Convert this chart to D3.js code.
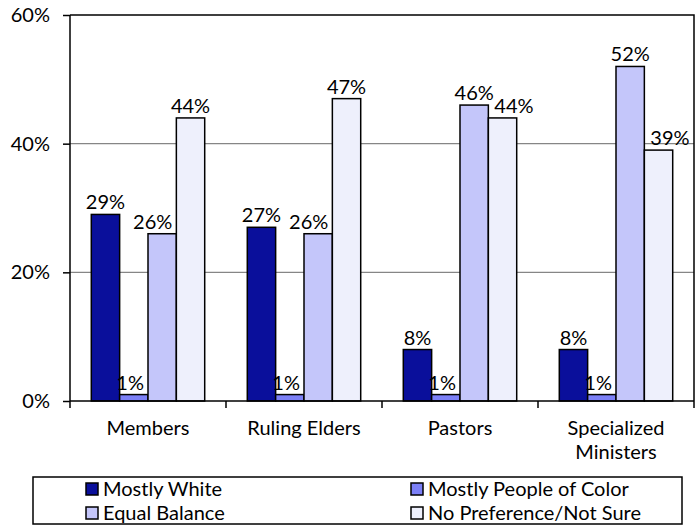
<!DOCTYPE html>
<html>
<head>
<meta charset="utf-8">
<script src="https://cdn.jsdelivr.net/npm/d3@7"></script>
<style>
  html, body { margin: 0; padding: 0; background: #fff; }
  svg text { font-family: Lato, "Open Sans", sans-serif; fill: #000; }
</style>
</head>
<body>
<svg id="chart" width="698" height="525"></svg>
<script>
// Survey groups along the x axis
const categories = ["Members", "Ruling Elders", "Pastors", "Specialized Ministers"];
// Answer options, one bar per option within each group
const seriesNames = ["Mostly White", "Mostly People of Color", "Equal Balance", "No Preference/Not Sure"];
const seriesColors = ["#0A0F9B", "#7C80F7", "#C4C6FA", "#EEF0FC"];
// Percent values, one array per answer option (in category order)
const mostlyWhite = [29, 27, 8, 8];
const mostlyPeopleOfColor = [1, 1, 1, 1];
const equalBalance = [26, 26, 46, 52];
const noPreference = [44, 47, 44, 39];
const yTicks = [0, 20, 40, 60];

const seriesValues = [mostlyWhite, mostlyPeopleOfColor, equalBalance, noPreference];
const fontSize = 20;

const svg = d3.select("#chart");
const margin = { left: 70, top: 15, right: 4, bottom: 124 };
const W = 698, H = 525;
const plotW = W - margin.left - margin.right;
const plotH = H - margin.top - margin.bottom;

const g = svg.append("g").attr("transform", `translate(${margin.left},${margin.top})`);

const x0 = d3.scaleBand().domain(categories).range([0, plotW]).paddingInner(0.273).paddingOuter(0.1365);
const x1 = d3.scaleBand().domain(seriesNames).range([0, x0.bandwidth()]);
const y = d3.scaleLinear().domain([0, 60]).range([plotH, 0]);

// Horizontal gridlines
g.append("g").selectAll("line")
  .data(yTicks.filter(t => t > 0 && t < 60))
  .join("line")
  .attr("x1", 0).attr("x2", plotW)
  .attr("y1", d => y(d)).attr("y2", d => y(d))
  .attr("stroke", "#868686").attr("stroke-width", 1.3);

// Plot area frame (top and right edges)
g.append("path")
  .attr("d", `M0,${y(60)}H${plotW}V${plotH}`)
  .attr("fill", "none").attr("stroke", "#000").attr("stroke-width", 1.5);

// Bars
const data = [];
categories.forEach((c, ci) => {
  seriesNames.forEach((s, si) => {
    data.push({ cat: c, series: s, si, ci, value: seriesValues[si][ci] });
  });
});

g.append("g").selectAll("rect")
  .data(data)
  .join("rect")
  .attr("x", d => x0(d.cat) + x1(d.series))
  .attr("y", d => y(d.value))
  .attr("width", x1.bandwidth())
  .attr("height", d => plotH - y(d.value))
  .attr("fill", d => seriesColors[d.si])
  .attr("stroke", "#000").attr("stroke-width", 1.5);

// Y axis
const yAxis = g.append("g")
  .call(d3.axisLeft(y).tickValues(yTicks).tickFormat(d => d + "%").tickSize(7).tickPadding(13));
yAxis.select(".domain").attr("stroke", "#000").attr("stroke-width", 1.5).attr("d", `M0,${plotH}V0`);
yAxis.selectAll(".tick line").attr("stroke", "#000").attr("stroke-width", 1.5);
yAxis.selectAll(".tick text").attr("font-size", fontSize).attr("font-family", null);

// X axis with ticks at group boundaries
const xAxisG = g.append("g").attr("transform", `translate(0,${plotH})`);
xAxisG.append("line").attr("x1", 0).attr("x2", plotW).attr("stroke", "#000").attr("stroke-width", 1.5);
const step = x0.step();
xAxisG.selectAll(".bound")
  .data(d3.range(categories.length + 1))
  .join("line")
  .attr("x1", i => i * step).attr("x2", i => i * step)
  .attr("y1", 0).attr("y2", 7)
  .attr("stroke", "#000").attr("stroke-width", 1.5);

// Category labels, wrapped to fit the group width
xAxisG.selectAll(".cat")
  .data(categories)
  .join("text")
  .attr("text-anchor", "middle")
  .attr("font-size", fontSize)
  .attr("x", d => x0(d) + x0.bandwidth() / 2)
  .attr("y", 34)
  .each(function (d) {
    const words = d.split(" ");
    const t = d3.select(this);
    const lines = (words.length > 1 && d.length > 14) ? words : [d];
    lines.forEach((w, i) => {
      t.append("tspan").attr("x", x0(d) + x0.bandwidth() / 2).attr("dy", i === 0 ? 0 : 24).text(w);
    });
  });

// Value labels above the bars, nudged sideways when a taller neighbour is in the way
const labels = g.append("g").selectAll("text")
  .data(data)
  .join("text")
  .attr("text-anchor", "middle")
  .attr("font-size", fontSize)
  .attr("x", d => x0(d.cat) + x1(d.series) + x1.bandwidth() / 2)
  .attr("y", d => y(d.value) - 5)
  .text(d => d.value + "%");

labels.each(function (d) {
  const w = this.getComputedTextLength();
  const cx = x0(d.cat) + x1(d.series) + x1.bandwidth() / 2;
  const base = y(d.value) - 5;
  let left = cx - w / 2, right = cx + w / 2;
  const vals = seriesValues.map(arr => arr[d.ci]);
  const next = d.si + 1 < vals.length ? vals[d.si + 1] : null;
  const prev = d.si > 0 ? vals[d.si - 1] : null;
  const barL = x0(d.cat) + x1(d.series), barR = barL + x1.bandwidth();
  if (next !== null && y(next) < base && right > barR - 4) {
    const shift = right - (barR - 4);
    left -= shift; right -= shift;
  } else if (prev !== null && y(prev) < base && left < barL + 6) {
    const shift = (barL + 6) - left;
    left += shift; right += shift;
  }
  d3.select(this).attr("x", (left + right) / 2);
});

// Legend
const legend = svg.append("g").attr("transform", "translate(33,477)");
legend.append("rect")
  .attr("width", 649).attr("height", 47)
  .attr("fill", "#fff").attr("stroke", "#000").attr("stroke-width", 1.5);
const colX = [53, 378];
const rowY = [12, 36];
const legendOrder = [0, 1, 2, 3];
const items = legend.selectAll(".item")
  .data(legendOrder)
  .join("g")
  .attr("transform", (d, i) => `translate(${colX[i % 2]},${rowY[Math.floor(i / 2)]})`);
items.append("rect")
  .attr("x", 0).attr("y", -6).attr("width", 12).attr("height", 12)
  .attr("fill", d => seriesColors[d]).attr("stroke", "#000").attr("stroke-width", 1.5);
items.append("text")
  .attr("x", 17).attr("y", 0).attr("dy", "0.35em")
  .attr("font-size", fontSize)
  .text(d => seriesNames[d]);
</script>
</body>
</html>
